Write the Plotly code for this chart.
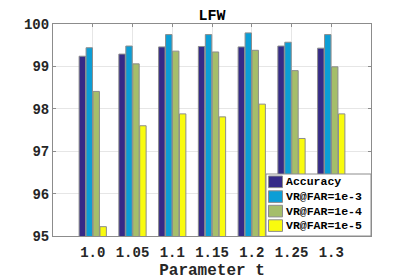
import plotly.graph_objects as go

categories = ["1.0", "1.05", "1.1", "1.15", "1.2", "1.25", "1.3"]
accuracy = [99.24, 99.29, 99.46, 99.47, 99.46, 99.48, 99.43]
vr_1e3 = [99.44, 99.48, 99.75, 99.75, 99.79, 99.57, 99.75]
vr_1e4 = [98.41, 99.06, 99.36, 99.34, 99.38, 98.90, 98.99]
vr_1e5 = [95.22, 97.60, 97.88, 97.81, 98.11, 97.30, 97.88]

series_names = ["Accuracy", "VR@FAR=1e-3", "VR@FAR=1e-4", "VR@FAR=1e-5"]
series_values = [accuracy, vr_1e3, vr_1e4, vr_1e5]
series_colors = ["#352a87", "#0b9ed6", "#a5be6a", "#f9fb0e"]

font = "Courier New, Liberation Mono, DejaVu Sans Mono, monospace"
edge = "#8c8c8c"
fig = go.Figure()
for name, vals, col in zip(series_names, series_values, series_colors):
    fig.add_trace(go.Bar(
        x=categories, y=vals, name=name, showlegend=False,
        marker=dict(color=col, line=dict(color=edge, width=1)),
    ))

# legend box drawn in paper coordinates (plot area 318 x 212 px)
PW, PH = 318.0, 212.0
lx0, lx1 = (266 - 53) / PW, 1.0
ly0, ly1 = 0.0, 62 / PH
shapes = [dict(type="rect", xref="paper", yref="paper", x0=lx0, x1=lx1, y0=ly0, y1=ly1,
               fillcolor="white", line=dict(color=edge, width=1), layer="above")]
annotations = []
row_centers_px = [54.2, 39.4, 24.9, 10.4]  # from bottom of plot area
for name, col, cy in zip(series_names, series_colors, row_centers_px):
    shapes.append(dict(type="rect", xref="paper", yref="paper",
                       x0=(268.5 - 53) / PW, x1=(282.5 - 53) / PW,
                       y0=(cy - 5.8) / PH, y1=(cy + 5.8) / PH,
                       fillcolor=col, line=dict(color=edge, width=1), layer="above"))
    annotations.append(dict(xref="paper", yref="paper", x=(284 - 53) / PW, y=cy / PH,
                            xanchor="left", yanchor="middle", showarrow=False,
                            text="<b>" + name + "</b>",
                            font=dict(family=font, size=11.5, color="black")))

# the page body adds an 8px offset, so margins are shifted to compensate
fig.update_layout(
    template="none",
    width=411, height=280,
    margin=dict(l=45, r=48, t=16, b=52, autoexpand=False),
    paper_bgcolor="white", plot_bgcolor="white",
    barmode="group", bargap=0.3, bargroupgap=0.08,
    title=dict(text="<b>LFW</b>", x=0.5, xref="paper", xanchor="center",
               y=1 - 6.5 / 280, yref="container", yanchor="middle", pad=dict(t=0, b=0),
               font=dict(family=font, size=15, color="black")),
    font=dict(family=font, color="#262626"),
    showlegend=False,
    shapes=shapes,
    annotations=annotations,
    xaxis=dict(
        type="category", range=[-1, 7], automargin=False,
        showgrid=True, gridcolor="#e6e6e6", gridwidth=1,
        ticks="inside", ticklen=3, tickcolor=edge, ticklabelstandoff=3,
        showline=True, linecolor=edge, mirror="ticks",
        tickfont=dict(family=font, size=14, color="#262626", weight="bold"),
        title=dict(text="<b>Parameter t</b>", standoff=4,
                   font=dict(family=font, size=16, color="#262626")),
    ),
    yaxis=dict(
        range=[95, 100], dtick=1, automargin=False,
        showgrid=True, gridcolor="#e6e6e6", gridwidth=1,
        ticks="inside", ticklen=3, tickcolor=edge,
        showline=True, linecolor=edge, mirror="ticks",
        tickfont=dict(family=font, size=14, color="#262626", weight="bold"),
        zeroline=False,
    ),
)

fig.write_html("out.html")
